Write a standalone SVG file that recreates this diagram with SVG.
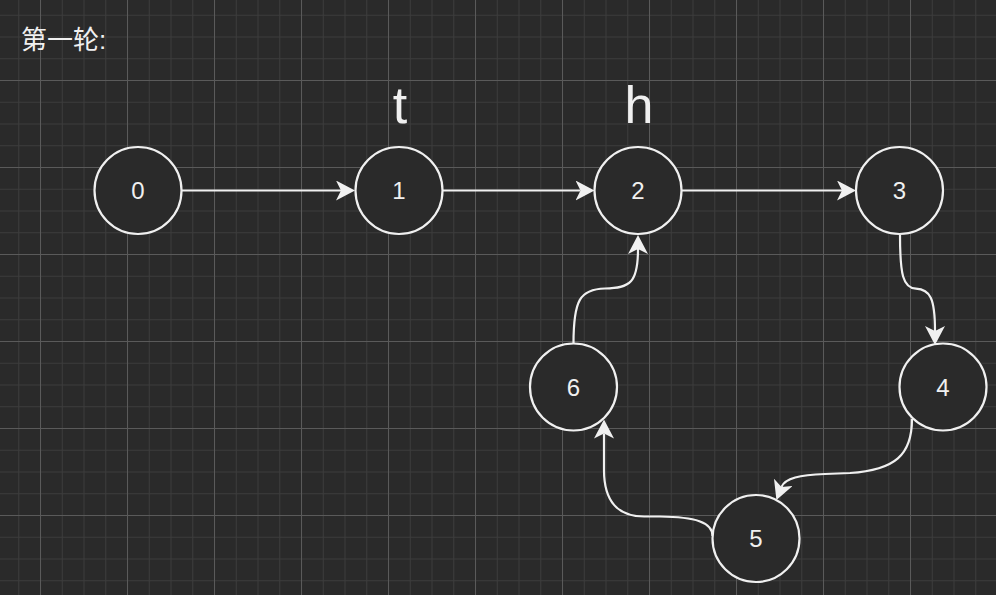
<svg xmlns="http://www.w3.org/2000/svg" width="996" height="595" viewBox="0 0 996 595">
<style>
.node circle{fill:#2a2a2a;stroke:#f0f0f0;stroke-width:2.2}
.node text{fill:#f0f0f0;font-family:"Liberation Sans",Arial,sans-serif;font-size:24px;text-anchor:middle}
.edge{fill:none;stroke:#f0f0f0;stroke-width:2.2;marker-end:url(#arr)}
.lbl{fill:#f0f0f0;font-family:"Liberation Sans",Arial,sans-serif;font-size:52px;text-anchor:middle}
.title{fill:#f0f0f0;font-family:"Liberation Sans","Noto Sans CJK SC",sans-serif;font-size:26px}
</style>
<defs>
<pattern id="minor" patternUnits="userSpaceOnUse" x="18.25" y="14.75" width="21.75" height="21.75">
<path d="M0.5,0 V21.75 M0,0.5 H21.75" stroke="#3c3c3c" stroke-width="1" fill="none"/>
</pattern>
<pattern id="major" patternUnits="userSpaceOnUse" x="40" y="-7" width="87" height="87">
<path d="M0.5,0 V87 M0,0.5 H87" stroke="#5a5a5a" stroke-width="1" fill="none"/>
</pattern>
<marker id="arr" markerUnits="userSpaceOnUse" markerWidth="20" markerHeight="20" refX="5" refY="10" orient="auto" viewBox="0 0 20 20">
<path d="M19,10 L0,0 L5,10 L0,20 Z" fill="#f0f0f0"/>
</marker>
</defs>
<rect width="996" height="595" fill="#2a2a2a"/>
<rect width="996" height="595" fill="url(#minor)"/>
<rect width="996" height="595" fill="url(#major)"/>
<text class="title" x="21" y="49">第一轮:</text>
<text class="lbl" x="400" y="123">t</text>
<text class="lbl" x="639" y="123">h</text>
<g id="connectors">
<path class="edge" d="M181.5,190.5 H341"/>
<path class="edge" d="M442.5,190.5 H580.5"/>
<path class="edge" d="M681.5,190.5 H842"/>
<path class="edge" d="M900,234.5 C900,275 903,288 916,288.7 C930,289.5 935,298 935,331"/>
<path class="edge" d="M912,419 C912,455 895,470 850,473 L825,474 C800,475 785,478 781.5,487"/>
<path class="edge" d="M712.5,536 C712.5,522 695,517 660,516.5 L645,516.5 Q604,517 604,470 V433.5"/>
<path class="edge" d="M573.5,343.5 C573.5,300 580,289 605,288.5 C630,288 638,283 638,249"/>
</g>
<g id="node0" class="node"><circle cx="138" cy="190.5" r="43.5"/><text x="138" y="199">0</text></g>
<g id="node1" class="node"><circle cx="399" cy="190.5" r="43.5"/><text x="399" y="199">1</text></g>
<g id="node2" class="node"><circle cx="638" cy="190.5" r="43.5"/><text x="638" y="199">2</text></g>
<g id="node3" class="node"><circle cx="899.5" cy="190.5" r="43.5"/><text x="899.5" y="199">3</text></g>
<g id="node4" class="node"><circle cx="943" cy="387" r="43.5"/><text x="943" y="395.5">4</text></g>
<g id="node5" class="node"><circle cx="756" cy="538.5" r="43.5"/><text x="756" y="547">5</text></g>
<g id="node6" class="node"><circle cx="573.5" cy="387" r="43.5"/><text x="573.5" y="395.5">6</text></g>
</svg>
